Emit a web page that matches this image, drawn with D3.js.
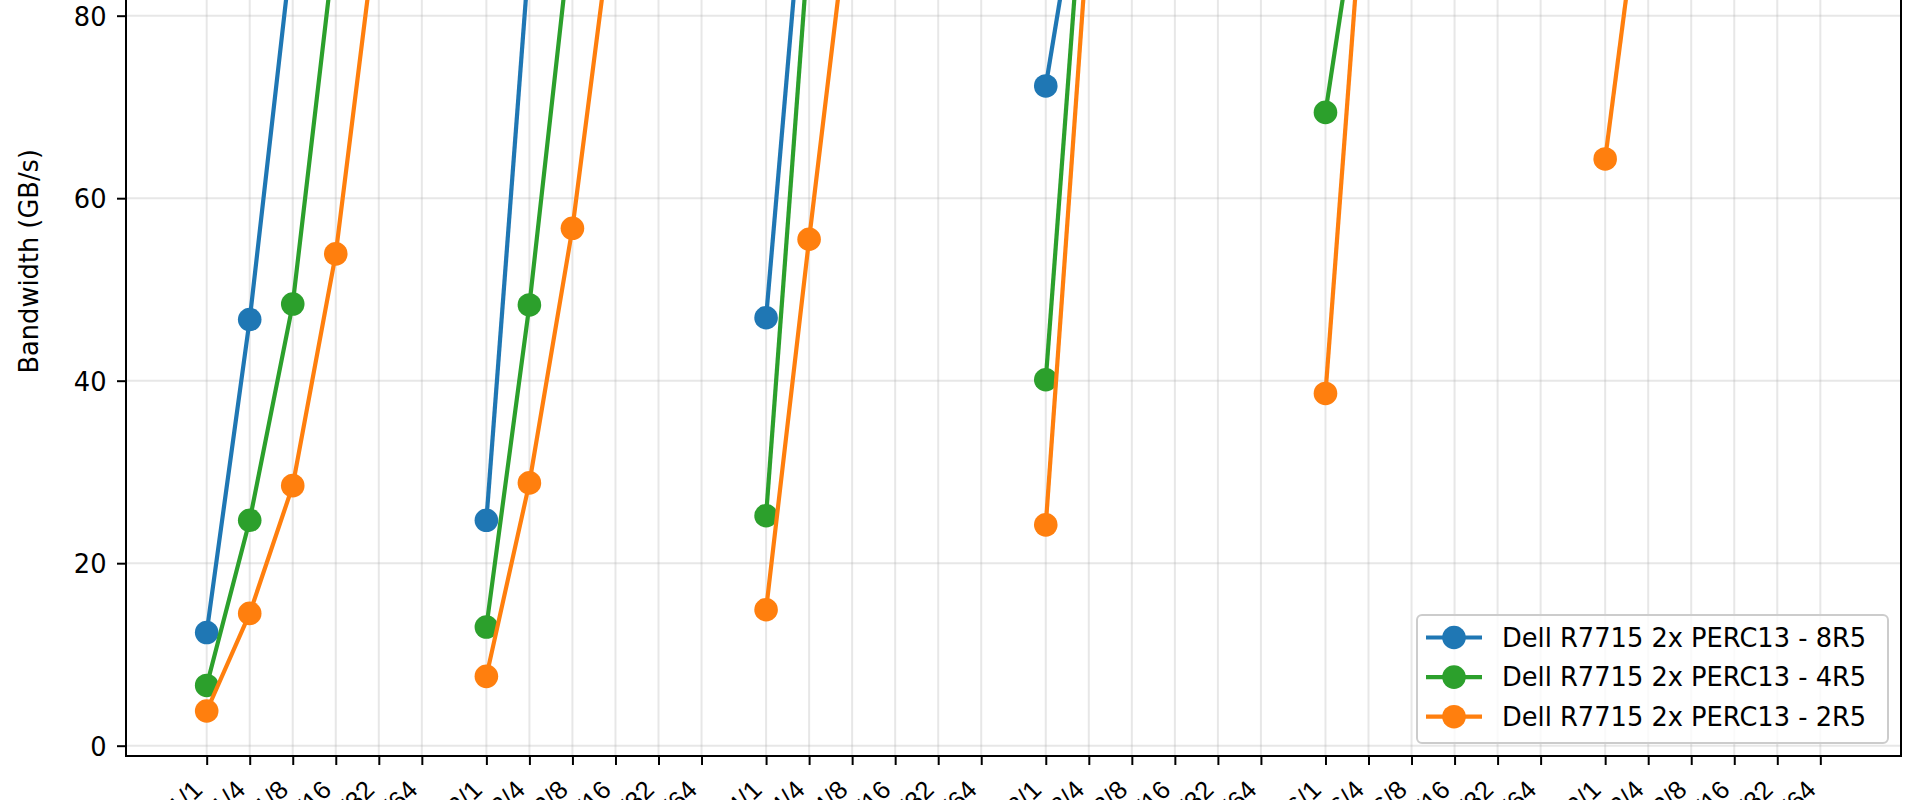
<!DOCTYPE html>
<html><head><meta charset="utf-8">
<script src="https://cdn.jsdelivr.net/npm/d3@7"></script>
<style>body{margin:0;background:#fff;overflow:hidden} svg{display:block;font-family:"DejaVu Sans",sans-serif}</style>
</head><body><svg id="c" width="1920" height="800"></svg>
<script>
// ---- data ----
const groupLabels = ["1","2","4","8","16","32"];          // job-count groups (prefix of each tick label)
const depthLabels = ["1","4","8","16","32","64"];         // per-group settings (end of each tick label)
const seriesNames = ["Dell R7715 2x PERC13 - 8R5","Dell R7715 2x PERC13 - 4R5","Dell R7715 2x PERC13 - 2R5"];
const seriesColors = ["#1f77b4","#2ca02c","#ff7f0e"];
// bandwidth (GB/s) per group, per setting; values above ~82 are outside the visible area (estimated)
const bw8R5 = [[12.4,46.7,88.2],[24.7,87.0],[46.9,101.7],[72.3,101.0],[],[]];
const bw4R5 = [[6.6,24.7,48.4,88.7],[13.0,48.3,90.6],[25.2,88.5],[40.1,103.0],[69.4,100.4],[]];
const bw2R5 = [[3.8,14.5,28.5,53.9,91.8],[7.6,28.8,56.7,93.4],[14.9,55.5,94.8],[24.2,90.2],[38.6,101.4],[64.3,100.6]];
const yTicks = [0,20,40,60,80,100];
const yLabel = "Bandwidth (GB/s)";

// ---- layout ----
const fs = 25.7;
const groupStride = 6.5;
const axLeft = 126, axRight = 1901, axBottom = 756;
const pxPerUnit = 9.125;
const yDomain = [-1.13, 107.3];
const axTop = axBottom - (yDomain[1]-yDomain[0])*pxPerUnit;

const svg = d3.select("#c");
const pos = (g,i) => g*groupStride + i;
const xMax = pos(groupLabels.length-1, depthLabels.length-1);
const x = d3.scaleLinear().domain([-0.05*xMax, xMax*1.05]).range([axLeft, axRight]);
const y = d3.scaleLinear().domain(yDomain).range([axBottom, axTop]);

const ticks = [];
groupLabels.forEach((g,gi)=>depthLabels.forEach((d,di)=>ticks.push({p:pos(gi,di), label:g+"/"+d})));

// grid
const grid = svg.append("g");
grid.selectAll("line.v").data(ticks).join("line")
  .attr("x1",d=>x(d.p)).attr("x2",d=>x(d.p)).attr("y1",axTop).attr("y2",axBottom)
  .attr("stroke","#b0b0b0").attr("stroke-opacity",0.3).attr("stroke-width",2);
grid.selectAll("line.h").data(yTicks).join("line")
  .attr("x1",axLeft).attr("x2",axRight).attr("y1",d=>y(d)).attr("y2",d=>y(d))
  .attr("stroke","#b0b0b0").attr("stroke-opacity",0.3).attr("stroke-width",2);

// axes via d3
const xAxis = d3.axisBottom(x).tickValues(ticks.map(t=>t.p)).tickSize(9).tickSizeOuter(0).tickFormat("");
const gx = svg.append("g").attr("transform",`translate(0,${axBottom})`).call(xAxis);
gx.select(".domain").remove();
gx.selectAll(".tick line").attr("stroke","#000").attr("stroke-width",2);
gx.selectAll(".tick text").remove();
gx.selectAll(".tick").append("text")
  .text((d,i)=>ticks[i].label)
  .attr("fill","#000").attr("font-size",fs).attr("text-anchor","end")
  .attr("transform",`translate(${-0.13*fs},${9+9+0.62*fs+1.5}) rotate(-45)`);

const yAxis = d3.axisLeft(y).tickValues(yTicks).tickSize(9).tickSizeOuter(0).tickFormat(d3.format("d"));
const gy = svg.append("g").attr("transform",`translate(${axLeft},0)`).call(yAxis);
gy.select(".domain").remove();
gy.selectAll(".tick line").attr("stroke","#000").attr("stroke-width",2);
gy.selectAll(".tick text").attr("font-size",fs).attr("fill","#000").attr("x",-19.5)
  .attr("dy",null).attr("y",0.365*fs).attr("font-family","DejaVu Sans");

svg.append("text").text(yLabel).attr("font-size",fs)
  .attr("text-anchor","middle")
  .attr("transform",`translate(38,${(axTop+axBottom)/2}) rotate(-90)`);

// data lines
const allSeries = [bw8R5,bw4R5,bw2R5];
const line = d3.line().x(d=>x(d.p)).y(d=>y(d.v));
const plot = svg.append("g");
allSeries.forEach((ser,si)=>{
  ser.forEach((vals,gi)=>{
    if(!vals.length) return;
    const pts = vals.map((v,i)=>({p:pos(gi,i), v}));
    const g = plot.append("g");
    g.append("path").attr("d",line(pts)).attr("fill","none")
      .attr("stroke",seriesColors[si]).attr("stroke-width",4.2).attr("stroke-linejoin","round").attr("stroke-linecap","butt");
    g.selectAll("circle").data(pts).join("circle")
      .attr("cx",d=>x(d.p)).attr("cy",d=>y(d.v)).attr("r",11.8).attr("fill",seriesColors[si]);
  });
});

// spines
svg.append("line").attr("x1",axLeft).attr("x2",axLeft).attr("y1",axTop).attr("y2",axBottom+1).attr("stroke","#000").attr("stroke-width",2);
svg.append("line").attr("x1",axRight).attr("x2",axRight).attr("y1",axTop).attr("y2",axBottom+1).attr("stroke","#000").attr("stroke-width",2);
svg.append("line").attr("x1",axLeft-1).attr("x2",axRight+1).attr("y1",axBottom).attr("y2",axBottom).attr("stroke","#000").attr("stroke-width",2);

// legend
const lg = svg.append("g");
lg.append("rect").attr("x",1417).attr("y",615).attr("width",471).attr("height",128).attr("rx",5)
  .attr("fill","#fff").attr("fill-opacity",0.8).attr("stroke","#cccccc").attr("stroke-width",2);
seriesNames.forEach((name,i)=>{
  const cy = 637.5 + i*39.6;
  lg.append("line").attr("x1",1426).attr("x2",1482).attr("y1",cy).attr("y2",cy)
    .attr("stroke",seriesColors[i]).attr("stroke-width",4.2);
  lg.append("circle").attr("cx",1454).attr("cy",cy).attr("r",11.8).attr("fill",seriesColors[i]);
  lg.append("text").text(name).attr("x",1502).attr("y",cy+0.365*fs).attr("font-size",fs).attr("fill","#000");
});
</script></body></html>
